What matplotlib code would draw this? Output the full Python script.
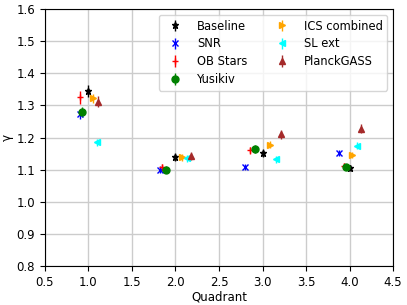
import matplotlib.pyplot as plt
import numpy as np

labels = ["Baseline", "SNR", "OB Stars", "Yusikiv", "ICS combined", "SL ext", "PlanckGASS"]
colors = ["black", "blue", "red", "green", "orange", "cyan", "brown"]
markers = ["*", "x", "+", "o", ">", "<", "^"]

# x positions (quadrant, slightly offset per model) and gamma values
x_vals = {
    "Baseline":     [1.00, 2.00, 3.00, 4.00],
    "SNR":          [0.90, 1.82, 2.80, 3.88],
    "OB Stars":     [0.91, 1.85, 2.86, 3.93],
    "Yusikiv":      [0.93, 1.89, 2.91, 3.96],
    "ICS combined": [1.05, 2.08, 3.09, 4.03],
    "SL ext":       [1.10, 2.13, 3.15, 4.09],
    "PlanckGASS":   [1.11, 2.18, 3.21, 4.13],
}
gamma = {
    "Baseline":     [1.345, 1.140, 1.152, 1.105],
    "SNR":          [1.272, 1.100, 1.108, 1.152],
    "OB Stars":     [1.325, 1.107, 1.160, 1.112],
    "Yusikiv":      [1.280, 1.100, 1.165, 1.108],
    "ICS combined": [1.322, 1.138, 1.178, 1.145],
    "SL ext":       [1.185, 1.135, 1.132, 1.175],
    "PlanckGASS":   [1.312, 1.142, 1.210, 1.228],
}
gamma_err = {
    "Baseline":     [0.020, 0.012, 0.012, 0.010],
    "SNR":          [0.015, 0.010, 0.010, 0.010],
    "OB Stars":     [0.020, 0.012, 0.012, 0.010],
    "Yusikiv":      [0.015, 0.010, 0.012, 0.010],
    "ICS combined": [0.015, 0.010, 0.010, 0.010],
    "SL ext":       [0.012, 0.010, 0.010, 0.012],
    "PlanckGASS":   [0.018, 0.012, 0.015, 0.015],
}

plt.rcParams["font.size"] = 8.5

fig, ax = plt.subplots(figsize=(4.07, 3.05), dpi=100)
for lab, c, m in zip(labels, colors, markers):
    ax.errorbar(x_vals[lab], gamma[lab], yerr=gamma_err[lab], fmt=m, color=c,
                markersize=5, elinewidth=1, capsize=0, linestyle="none", label=lab)

ax.set_xlim(0.5, 4.5)
ax.set_ylim(0.8, 1.6)
ax.set_xticks(np.arange(0.5, 4.51, 0.5))
ax.set_yticks(np.arange(0.8, 1.61, 0.1))
ax.grid(True, color="#cccccc", linewidth=1)
ax.set_axisbelow(True)
ax.set_xlabel("Quadrant", labelpad=1)
ax.set_ylabel("γ", labelpad=2)
ax.legend(ncol=2, loc="upper right", fontsize=8.3, handletextpad=0.9,
          columnspacing=2.0, labelspacing=0.42, borderaxespad=0.5)
fig.subplots_adjust(left=0.11, right=0.966, top=0.97, bottom=0.128)
fig.savefig("out.png", dpi=100)
